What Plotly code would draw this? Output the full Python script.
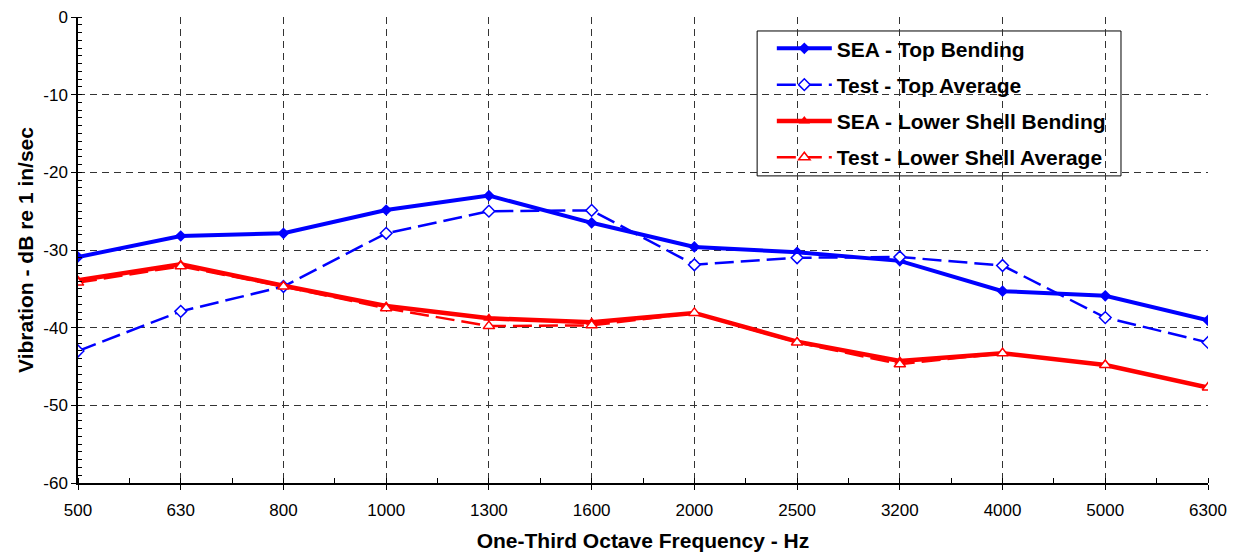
import plotly.graph_objects as go

# One-third octave band centre frequencies (Hz)
freq_labels = ["500", "630", "800", "1000", "1300", "1600", "2000",
               "2500", "3200", "4000", "5000", "6300"]

# Vibration levels, dB re 1 in/sec
sea_top_bending = [-30.9, -28.2, -27.85, -24.85, -23.0, -26.5, -29.6,
                   -30.3, -31.4, -35.3, -35.9, -39.05]
test_top_average = [-43.0, -37.9, -34.7, -27.85, -25.0, -24.9, -31.9,
                    -31.0, -30.9, -32.0, -38.7, -41.9]
sea_lower_bending = [-33.9, -31.85, -34.6, -37.2, -38.8, -39.3, -38.1,
                     -41.8, -44.3, -43.3, -44.8, -47.7]
test_lower_average = [-34.2, -32.1, -34.7, -37.5, -39.8, -39.7, -38.1,
                      -41.9, -44.7, -43.3, -44.8, -47.7]

# Value axis ticks (plain hyphen for the minus sign)
y_ticks = [-60, -50, -40, -30, -20, -10, 0]
y_tick_text = ["-60", "-50", "-40", "-30", "-20", "-10", "0"]

x_idx = list(range(len(freq_labels)))
BLUE = "#0000FF"
RED = "#FF0000"
FONT = "Liberation Sans, Arial, sans-serif"

fig = go.Figure()
fig.add_trace(go.Scatter(
    x=x_idx, y=sea_top_bending, name="SEA - Top Bending", mode="lines+markers",
    legendgroup="a",
    line=dict(color=BLUE, width=4),
    marker=dict(symbol="diamond", size=9, color=BLUE)))
fig.add_trace(go.Scatter(
    x=x_idx, y=test_top_average, name="Test - Top Average", mode="lines+markers",
    legendgroup="b",
    line=dict(color=BLUE, width=2.5, dash="19px,7px"),
    marker=dict(symbol="diamond", size=9, color="white",
                line=dict(color=BLUE, width=1.5))))
fig.add_trace(go.Scatter(
    x=x_idx, y=sea_lower_bending, name="SEA - Lower Shell Bending", mode="lines+markers",
    legendgroup="c",
    line=dict(color=RED, width=4.5),
    marker=dict(symbol="triangle-up", size=10, color=RED)))
fig.add_trace(go.Scatter(
    x=x_idx, y=test_lower_average, name="Test - Lower Shell Average", mode="lines+markers",
    legendgroup="d",
    line=dict(color=RED, width=2.5, dash="19px,7px"),
    marker=dict(symbol="triangle-up", size=10, color="white",
                line=dict(color=RED, width=1.5))))

# White legend panel with a thin black frame
fig.add_shape(
    type="rect", xref="paper", yref="paper", layer="between",
    x0=0.601, x1=0.923, y0=0.659, y1=0.970,
    fillcolor="white", line=dict(color="black", width=1))

fig.update_layout(
    width=1235, height=556,
    margin=dict(l=78, r=27, t=17, b=73, autoexpand=False),
    paper_bgcolor="white", plot_bgcolor="white",
    font=dict(family=FONT, color="black", size=17),
    legend=dict(
        x=0.614, y=0.976, xanchor="left", yanchor="top",
        bgcolor="rgba(0,0,0,0)", borderwidth=0,
        font=dict(size=21, family=FONT, weight="bold"),
        itemwidth=55, tracegroupgap=6,
    ),
    showlegend=True,
)

fig.update_xaxes(
    range=[0, 11], tickmode="array", tickvals=x_idx, ticktext=freq_labels,
    automargin=False,
    showline=True, linecolor="black", linewidth=1.5,
    ticks="outside", ticklen=5, tickcolor="black", ticklabelstandoff=6,
    minor=dict(ticks="inside", ticklen=5, tickcolor="black", dtick=0.5, tick0=0.5,
               showgrid=False),
    showgrid=True, gridcolor="#333333", griddash="7px,5px", gridwidth=1,
    zeroline=False,
    title=dict(text="<b>One-Third Octave Frequency - Hz</b>", font=dict(size=21), standoff=14),
    tickfont=dict(size=17),
)
fig.update_yaxes(
    range=[-60, 0], tickmode="array", tickvals=y_ticks, ticktext=y_tick_text,
    automargin=False,
    showline=True, linecolor="black", linewidth=1.5,
    ticks="outside", ticklen=5, tickcolor="black",
    minor=dict(ticks="inside", ticklen=4, tickcolor="black", dtick=1, showgrid=False),
    showgrid=True, gridcolor="#333333", griddash="7px,5px", gridwidth=1,
    zeroline=False,
    title=dict(text="<b>Vibration - dB re 1 in/sec</b>", font=dict(size=21), standoff=4),
    tickfont=dict(size=17),
)

fig.write_html("out.html")
